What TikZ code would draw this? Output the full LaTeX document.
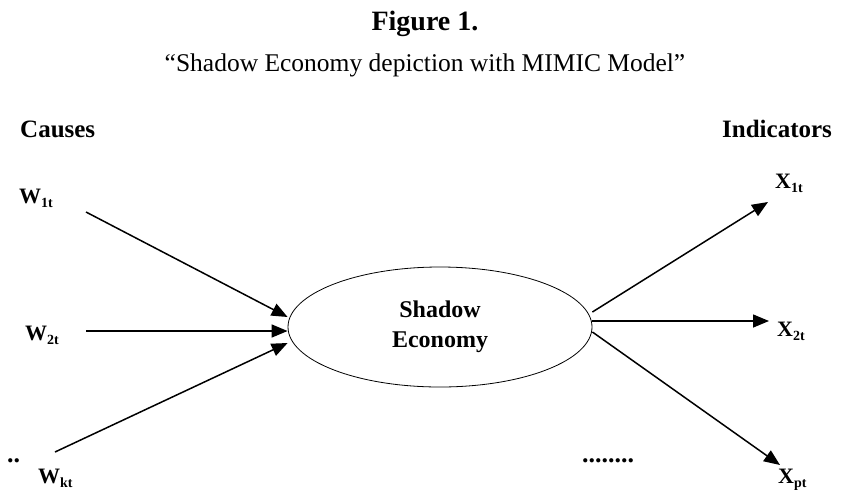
\documentclass[tikz,border=0pt]{standalone}
\usepackage{fontspec}
\setmainfont{Liberation Serif}
\usetikzlibrary{shapes.geometric,arrows.meta}
\newcommand{\subx}[1]{\raisebox{-4pt}{\fontsize{14}{14}\selectfont #1}}
\begin{document}
\begin{tikzpicture}[x=1pt,y=-1pt,
  arr/.style={line width=1.5pt, -{Triangle[length=16pt,width=13pt]}},
  lbl/.style={font=\fontsize{22}{26}\selectfont\bfseries, anchor=base west, inner sep=0},
  hdr/.style={font=\fontsize{25}{30}\selectfont\bfseries, anchor=base west, inner sep=0},
  dots/.style={font=\fontsize{26}{30}\selectfont\bfseries, anchor=base west, inner sep=0}]
\useasboundingbox (0,0) rectangle (850,490);
\node[font=\fontsize{28}{34}\selectfont\bfseries, anchor=base, inner sep=0] (title) at (425,30) {Figure 1.};
\node[font=\fontsize{25.5}{30}\selectfont, anchor=base, inner sep=0] (sub) at (425,71) {“Shadow Economy depiction with MIMIC Model”};
\node[hdr] (causes) at (20,137) {Causes};
\node[hdr] (ind) at (722,137) {Indicators};
\node[lbl] (w1) at (19,203) {W\subx{1t}};
\node[lbl] (w2) at (25,340) {W\subx{2t}};
\node[lbl] (wk) at (38,483) {W\subx{kt}};
\node[dots] (dl) at (7,462) {..};
\node[lbl] (x1) at (775,188) {X\subx{1t}};
\node[lbl] (x2) at (777,336) {X\subx{2t}};
\node[lbl] (xp) at (778,483) {X\subx{pt}};
\node[dots] (dr) at (582,462) {........};
\node[draw, ellipse, line width=0.8pt, minimum width=304pt, minimum height=120pt, inner sep=0, align=center,
      font=\fontsize{24}{30}\selectfont\bfseries] (se) at (440,327) {Shadow\\Economy};
\coordinate (w1s) at (86,212);
\coordinate (w2s) at (86,331);
\coordinate (wks) at (55,452);
\coordinate (x1e) at (768,202);
\coordinate (x2e) at (769,321);
\coordinate (xpe) at (780,465);
\draw[arr] (w1s) -- ([yshift=10pt]se.west);
\draw[arr] (w2s) -- ([yshift=-4pt]se.west);
\draw[arr] (wks) -- ([yshift=-16pt]se.west);
\draw[arr] ([yshift=15pt]se.east) -- (x1e);
\draw[arr] ([yshift=6pt]se.east) -- (x2e);
\draw[arr] ([yshift=-5pt]se.east) -- (xpe);
\end{tikzpicture}
\end{document}
